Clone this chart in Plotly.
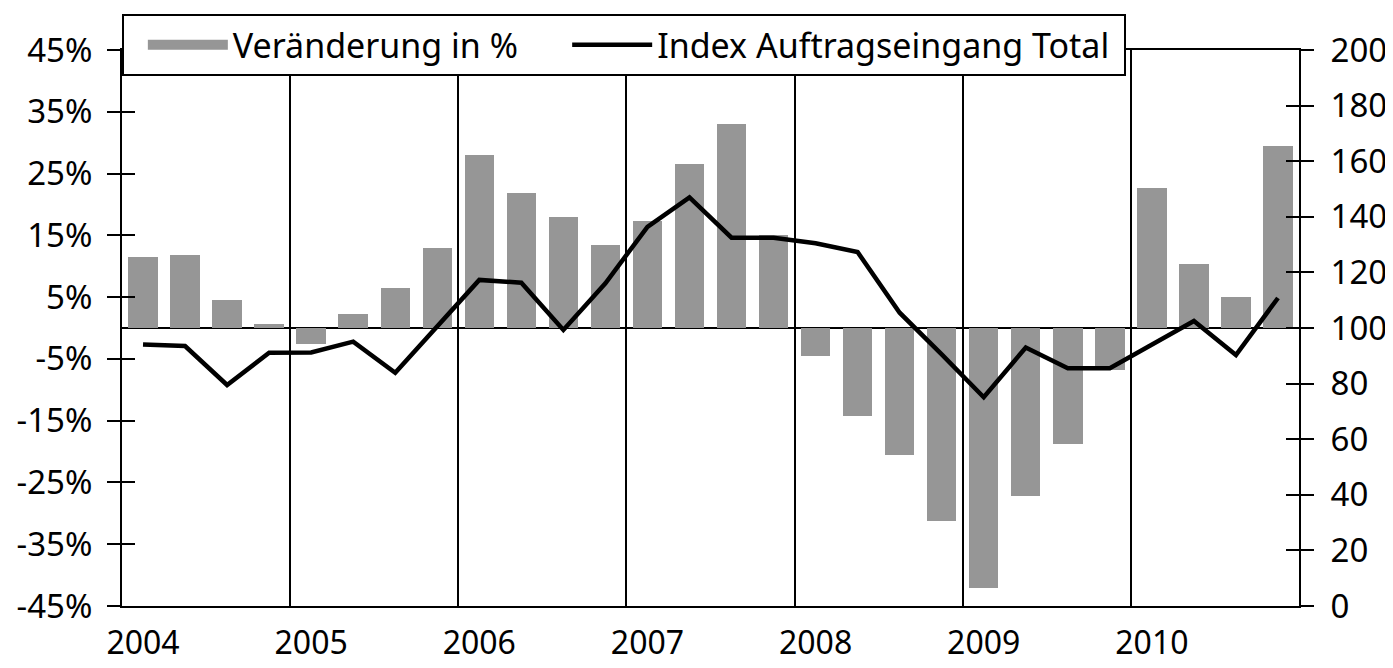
import plotly.graph_objects as go

# Quartale 2004 Q1 .. 2010 Q4
quarters = [f"{y} Q{q}" for y in range(2004, 2011) for q in range(1, 5)]
year_labels = ["2004", "2005", "2006", "2007", "2008", "2009", "2010"]

# Veränderung in % (linke Achse)
change_pct = [11.5, 11.8, 4.6, 0.7,
              -2.6, 2.3, 6.5, 13.0,
              28.0, 21.9, 18.0, 13.4,
              17.3, 26.5, 33.0, 15.1,
              -4.5, -14.2, -20.6, -31.3,
              -42.1, -27.2, -18.7, -6.8,
              22.7, 10.3, 5.0, 29.5]

# Index Auftragseingang Total (rechte Achse)
index_total = [94.1, 93.5, 79.5, 91.1,
               91.2, 95.1, 83.9, 100.8,
               117.3, 116.3, 99.3, 116.1,
               136.4, 147.0, 132.5, 132.5,
               130.5, 127.3, 105.5, 90.5,
               75.1, 93.0, 85.5, 85.5,
               94.1, 102.5, 90.3, 110.8]

left_ticks = list(range(-45, 46, 10))
right_ticks = list(range(0, 201, 20))

x = list(range(len(quarters)))
FONT = "Noto Sans"
FS = 33
BAR_GREY = "#969696"
NB = "\u00a0"  # geschützte Leerzeichen für Abstände in der Legende

fig = go.Figure()
fig.add_trace(go.Bar(
    x=x, y=change_pct, name="Veränderung in %",
    marker=dict(color=BAR_GREY, line=dict(width=0)),
    width=0.7, hovertext=quarters, yaxis="y", showlegend=False
))
# Legenden-Eintrag mit breitem grauen Balken
fig.add_trace(go.Scatter(
    x=[None], y=[None], name="Veränderung in %" + NB * 5, mode="lines",
    line=dict(color=BAR_GREY, width=22), yaxis="y", hoverinfo="skip"
))
fig.add_trace(go.Scatter(
    x=x, y=index_total, name="Index Auftragseingang Total" + NB,
    mode="lines", line=dict(color="black", width=4.5),
    hovertext=quarters, yaxis="y2"
))

axis_common = dict(tickcolor="black", tickwidth=2, ticklen=13, automargin=False,
                   tickfont=dict(family=FONT, size=FS, color="black"))

# die Seite hat 8px Rand, daher Figur etwas kleiner
fig.update_layout(
    width=1385, height=660,
    margin=dict(l=114, r=94, t=42, b=62, autoexpand=False),
    paper_bgcolor="white", plot_bgcolor="white",
    font=dict(family=FONT, size=FS, color="black"),
    bargap=0,
    xaxis=dict(
        range=[-0.5, len(quarters) - 0.5], automargin=False,
        tickmode="array", tickvals=[i * 4 for i in range(len(year_labels))],
        ticktext=year_labels, ticks="", showgrid=False, zeroline=False,
        showline=True, linecolor="black", linewidth=2, mirror=True,
        ticklabelstandoff=8,
        tickfont=dict(family=FONT, size=32, color="black"),
        minor=dict(tickmode="array",
                   tickvals=[i * 4 - 0.5 for i in range(1, len(year_labels))],
                   showgrid=True, gridcolor="black", gridwidth=2, ticks=""),
    ),
    yaxis=dict(
        range=[-45, 45], tickmode="array", tickvals=left_ticks,
        ticktext=[f"{v}%" for v in left_ticks], ticks="outside",
        showgrid=False, zeroline=True, zerolinecolor="black", zerolinewidth=2,
        showline=True, linecolor="black", linewidth=2,
        ticklabelstandoff=8, **axis_common
    ),
    yaxis2=dict(
        range=[0, 200], tickmode="array", tickvals=right_ticks,
        overlaying="y", side="right", ticks="outside",
        showgrid=False, zeroline=False, showline=True, linecolor="black",
        linewidth=2, ticklabelstandoff=10, **axis_common
    ),
    yaxis3=dict(
        range=[-45, 45], tickmode="array", tickvals=left_ticks,
        overlaying="y", side="left", ticks="inside", showticklabels=False,
        showgrid=False, zeroline=False, tickcolor="black", tickwidth=2,
        ticklen=13, automargin=False
    ),
    yaxis4=dict(
        range=[0, 200], tickmode="array", tickvals=right_ticks,
        overlaying="y", side="right", ticks="inside", showticklabels=False,
        showgrid=False, zeroline=False, tickcolor="black", tickwidth=2,
        ticklen=13, automargin=False
    ),
    showlegend=True,
    legend=dict(
        orientation="h", x=0, xanchor="left", y=1.0647, yanchor="top",
        bgcolor="white", bordercolor="black", borderwidth=2,
        font=dict(family=FONT, size=34, color="black"),
        title=dict(text=NB, side="left", font=dict(family=FONT, size=34)),
        itemwidth=80, traceorder="normal",
    ),
)

# leere Spuren, damit die Zusatzachsen gezeichnet werden
fig.add_trace(go.Scatter(x=[None], y=[None], yaxis="y3", showlegend=False, hoverinfo="skip"))
fig.add_trace(go.Scatter(x=[None], y=[None], yaxis="y4", showlegend=False, hoverinfo="skip"))

fig.write_html("out.html")
